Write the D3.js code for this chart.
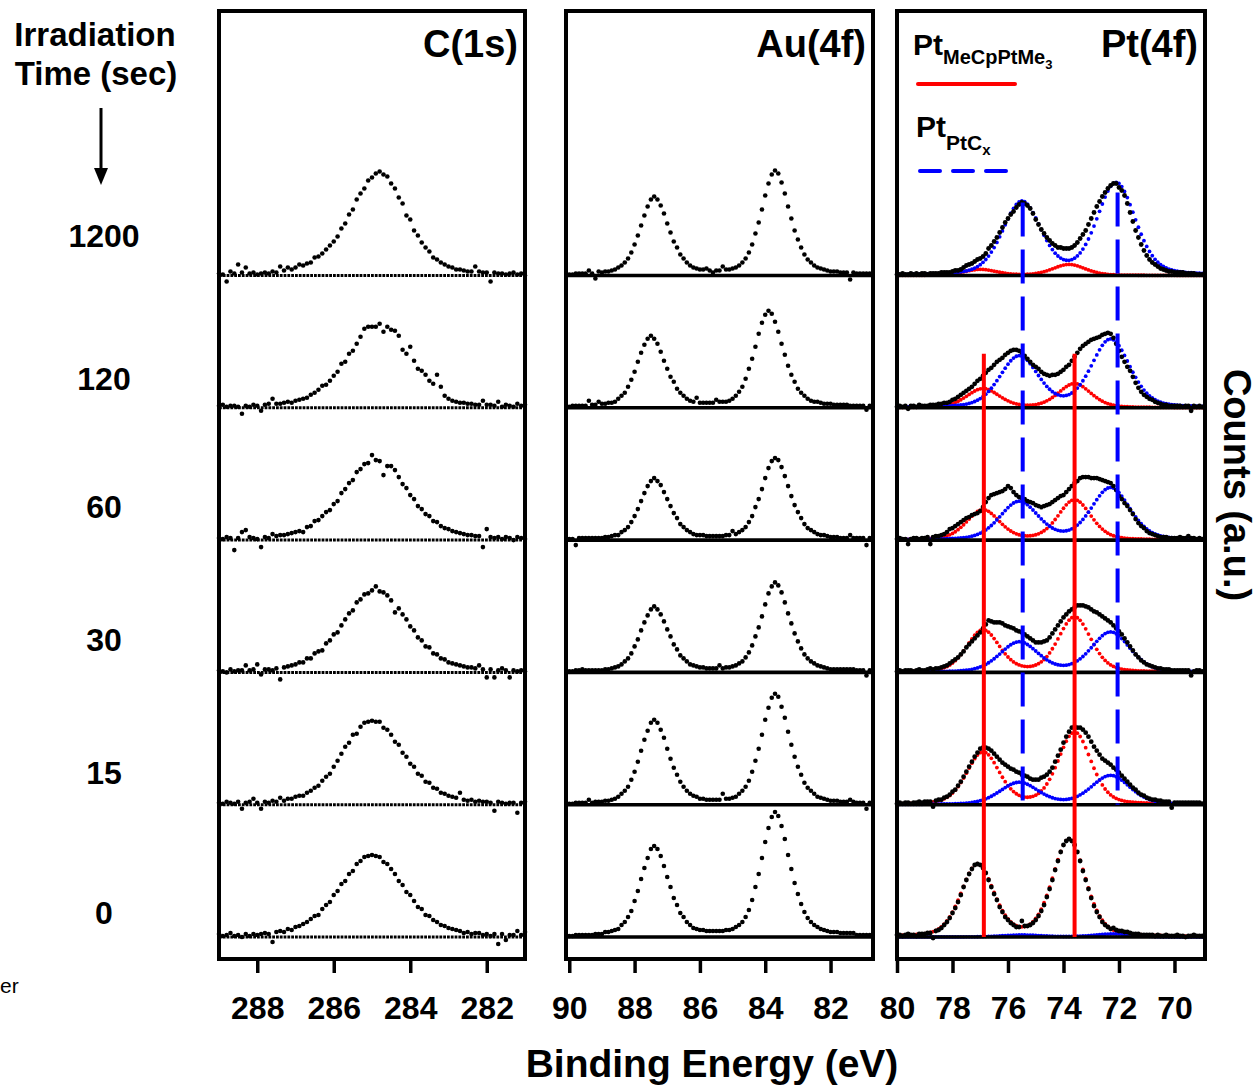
<!DOCTYPE html>
<html>
<head>
<meta charset="utf-8">
<script src="https://cdn.jsdelivr.net/npm/d3@7"></script>
<style>
  html, body { margin: 0; padding: 0; background: #fff; }
  svg { display: block; }
</style>
</head>
<body>
<svg id="chart" width="1258" height="1086"></svg>
<script>
// ---- Data ---------------------------------------------------------------
// Irradiation times, one spectrum row per time (top row first)
const timeLabels = ["1200", "120", "60", "30", "15", "0"];

// Binding-energy tick labels of the three panels
const c1sTicks = [288, 286, 284, 282];
const au4fTicks = [90, 88, 86, 84, 82];
const pt4fTicks = [80, 78, 76, 74, 72, 70];

// C(1s) counts (a.u., background subtracted), 289.0 -> 281.0 eV, 0.1 eV steps
const c1sCounts = [
  [2,1,-6,4,2,11,3,8,2,3, 1,2,3,2,4,3,9,5,8,6, 8,11,10,12,13,18,19,22,26,30, 34,39,47,52,61,66,76,82,87,95, 98,102,104,101,99,92,87,78,72,60, 56,45,40,33,28,24,18,16,13,11, 9,8,6,6,5,4,4,9,4,3, 3,-6,3,2,2,1,2,3,1,2, 0],
  [2,3,1,2,2,1,-6,2,1,3, 2,-3,3,4,9,4,4,5,6,5, 7,8,9,10,13,15,18,22,23,27, 32,36,44,46,54,57,64,71,79,81, 81,81,84,76,81,78,77,72,58,54, 61,47,39,37,33,27,24,33,21,12, 9,7,6,5,5,4,4,3,3,7, 3,3,2,6,1,3,2,1,4,2, 3],
  [2,1,3,2,-10,2,8,10,3,2, 1,-7,3,2,6,4,5,5,6,7, 8,9,8,13,14,19,20,24,28,30, 36,39,47,51,57,60,68,71,76,77, 85,80,79,65,74,74,70,63,56,52, 45,41,34,31,26,24,19,18,14,12, 11,9,8,7,6,5,5,4,4,-7, 11,3,2,3,1,3,2,0,3,2, 1],
  [2,1,0,3,1,2,2,7,2,3, 8,-2,3,3,2,4,-7,5,6,7, 8,10,10,14,14,19,21,22,29,32, 38,40,47,53,59,62,70,73,78,79, 82,86,81,80,77,72,60,64,58,53, 46,42,35,32,26,25,19,18,14,13, 10,9,8,7,6,5,5,4,7,3, -5,3,-5,2,4,2,-5,2,1,2, 1],
  [2,1,3,2,1,3,-4,2,3,6, 2,-4,3,2,4,3,7,4,6,6, 8,9,9,12,14,17,19,24,28,31, 38,44,51,58,62,70,71,78,82,83, 84,83,83,77,75,70,63,60,52,48, 41,38,31,29,23,22,17,16,12,11, 9,8,7,12,5,4,5,3,4,3, 3,2,-6,3,2,1,2,2,-8,2, 3],
  [3,1,2,4,1,2,0,3,1,3, 2,3,4,3,-5,5,6,5,8,7, 10,11,13,15,18,21,22,28,32,35, 42,46,53,56,63,66,73,76,80,81, 82,81,80,75,73,68,63,56,52,45, 42,36,30,28,22,21,17,15,12,11, 9,8,7,6,4,5,3,4,4,2, 3,1,3,-7,3,-3,2,2,6,2, 5]
];

// Au(4f) counts, 90.0 -> 80.8 eV, 0.1 eV steps
const au4fCounts = [
  [1,1,2,2,2,2,5,2,-3,4, 3,4,4,5,6,8,10,13,17,23, 31,40,50,60,69,76,79,76,70,62, 52,43,34,28,21,17,13,10,8,7, 6,6,7,5,3,5,5,9,6,6, 7,8,10,13,17,23,31,42,53,66, 80,92,101,105,102,93,82,69,57,45, 36,28,21,16,13,10,8,7,6,5, 4,4,4,3,3,3,-4,3,2,2, 2,2,2],
  [1,2,2,2,2,2,7,3,3,6, 4,4,5,5,6,9,12,15,21,28, 36,46,55,63,69,72,69,64,56,47, 39,31,26,19,15,12,9,7,6,10, 5,5,5,5,5,8,6,6,6,7, 9,12,16,21,29,39,49,61,74,85, 93,97,94,86,76,64,53,42,33,26, 19,15,12,9,7,6,6,5,4,4, 4,3,3,3,3,3,2,2,2,2, 2,-2,2],
  [1,1,-5,2,2,2,2,2,2,2, 2,3,3,4,5,5,8,10,13,18, 24,31,39,47,54,59,62,59,55,48, 41,34,27,22,16,13,10,8,6,5, 5,5,4,4,4,4,4,4,5,5, 9,6,8,10,13,18,24,33,41,51, 62,72,79,82,80,73,64,54,44,35, 28,22,16,12,10,8,6,5,5,4, 3,3,3,2,2,2,5,2,2,2, 2,-5,2],
  [1,1,2,2,3,2,2,2,2,2, 2,3,3,4,5,6,8,11,14,19, 26,33,42,50,57,63,66,63,58,51, 43,36,28,23,17,14,11,8,7,6, 5,5,4,4,4,4,7,4,5,5, 6,7,9,11,15,20,27,36,45,56, 68,79,86,90,87,80,70,59,49,39, 31,24,18,14,11,9,7,6,5,4, 3,3,3,3,3,3,3,3,2,2, 2,-3,2],
  [1,1,2,2,2,2,5,2,3,3, 3,4,4,5,6,8,11,14,18,25, 33,43,54,65,74,82,85,82,75,67, 56,46,37,30,23,18,14,11,9,8, 6,6,5,5,5,5,5,11,6,6, 7,8,11,14,18,24,33,44,56,70, 85,97,107,111,108,98,87,73,60,48, 38,30,22,17,14,11,8,7,6,5, 4,4,4,3,3,3,5,3,2,2, 2,-4,2],
  [1,1,2,2,2,2,2,2,3,3, 3,5,5,6,7,8,12,15,20,26, 36,46,58,69,79,88,91,88,81,71, 60,50,39,32,24,20,15,12,9,8, 7,7,6,6,6,6,6,6,7,7, 8,10,12,15,20,27,37,50,63,79, 95,109,120,125,121,111,98,82,68,54, 43,33,25,19,15,12,10,8,7,6, 5,5,5,4,4,4,4,4,2,2, 2,2,2]
];

// Pt(4f) counts, 80.0 -> 69.0 eV, 0.1 eV steps
const pt4fCounts = [
  [1,1,2,1,1,2,1,2,1,2, 2,1,2,2,2,2,3,3,3,3, 4,5,5,6,8,10,11,12,14,16, 17,19,22,27,30,34,38,43,48,53, 57,61,64,68,71,73,72,70,67,62, 56,51,46,42,38,35,32,30,28,28, 27,27,27,28,30,33,37,41,45,51, 57,63,69,74,79,83,87,90,92,92, 88,85,80,72,63,54,45,38,31,25, 20,16,13,11,9,7,6,5,4,4, 3,3,3,3,2,2,2,2,1,1,1],
  [1,2,1,2,-1,2,2,1,3,2, 2,2,3,3,3,4,4,5,5,6, 8,9,11,13,15,17,19,21,24,27, 29,32,35,38,40,43,46,48,50,53, 55,57,58,58,57,55,52,49,46,43, 41,39,36,34,33,32,33,33,34,36, 38,41,43,47,51,55,59,62,64,66, 68,69,70,71,73,74,75,74,70,64, 57,51,46,41,37,31,25,20,16,13, 11,9,8,6,5,4,3,3,2,2, 2,2,2,1,2,2,-3,2,1,2,1],
  [1,2,1,1,-4,1,2,2,1,2, 2,3,-4,3,4,4,5,6,8,11, 12,14,16,18,20,22,23,25,26,27, 29,33,38,42,45,46,47,48,49,51, 54,52,48,45,43,42,41,39,38,37, 35,34,33,34,35,36,38,40,42,44, 45,48,51,54,57,59,62,63,63,63, 62,62,62,61,60,59,58,57,54,50, 44,41,37,34,30,26,21,17,14,12, 9,7,6,5,4,3,3,3,2,2, 2,2,3,2,2,4,2,2,1,2,1],
  [1,2,1,2,2,2,1,2,3,2, 2,3,4,3,4,4,5,6,7,9, 11,13,15,18,21,25,28,31,34,37, 40,44,48,52,51,50,50,50,49,47, 46,45,44,42,41,40,38,36,34,32, 30,30,30,31,32,35,39,43,47,51, 55,58,61,63,65,67,67,67,66,65, 63,61,60,58,56,54,52,50,47,44, 41,38,34,30,26,22,18,15,12,10, 8,7,6,5,4,4,3,3,3,2, 2,2,2,2,2,2,-3,1,2,2,1],
  [1,2,1,2,2,1,2,2,3,2, 3,3,3,-2,4,5,5,7,8,10, 13,15,19,23,28,33,38,43,48,52, 56,57,57,56,54,51,48,45,42,40, 38,36,35,33,32,30,29,28,26,25, 25,25,27,28,30,33,37,43,49,55, 62,68,73,77,78,77,77,75,72,68, 63,58,54,50,46,44,42,40,37,35, 32,29,26,23,20,17,15,12,10,9, 7,6,5,5,4,4,3,3,3,-3, 2,2,2,2,2,2,2,2,2,2,1],
  [2,2,1,2,3,2,2,1,3,3, 3,4,4,-1,6,7,9,12,15,19, 24,29,35,42,50,57,63,68,72,73, 72,69,64,57,50,43,37,30,25,20, 17,14,12,10,10,16,11,11,12,14, 17,21,26,32,40,48,57,67,76,85, 92,96,98,96,92,85,76,66,57,48, 39,31,25,20,15,12,10,8,9,7, 6,6,5,5,4,3,3,3,2,2, 2,2,2,1,2,1,1,2,1,1, 1,2,1,1,0,1,1,2,1,1,1]
];

// Fitted Pt 4f doublets per row: [binding energy (eV), height (a.u.)]
const ptOrgPeaks = [   // Pt in MeCpPtMe3
  [[77.0, 6], [73.8, 11]],
  [[76.9, 19], [73.6, 24]],
  [[76.9, 30], [73.6, 40]],
  [[76.9, 42], [73.6, 55]],
  [[76.9, 52], [73.6, 72]],
  [[77.1, 72], [73.8, 97]]
];
const ptCxPeaks = [    // Pt in PtCx
  [[75.5, 73], [72.1, 92]],
  [[75.6, 51], [72.3, 68]],
  [[75.6, 38], [72.3, 52]],
  [[75.6, 30], [72.3, 40]],
  [[75.6, 22], [72.3, 29]],
  [[75.5, 2], [72.2, 3]]
];
const ptOrgHwhm = 0.70;   // eV
const ptCxHwhm = 0.82;    // eV
const lorentzFraction = 0.3;

// Guide lines at the two species' peak energies (eV)
const ptOrgGuides = [76.87, 73.6];
const ptCxGuides = [75.47, 72.05];

// ---- Layout -------------------------------------------------------------
const FONT = "'Liberation Sans', Arial, Helvetica, sans-serif";
const RED = "#ff0000", BLUE = "#0000ff";
const STEP = 0.1;
const frameTop = 11, frameBottom = 959;

const svg = d3.select("#chart");

// Baseline of every spectrum row, and counts -> vertical pixel offset
const rowY = d3.scaleLinear().domain([0, 5]).range([275.5, 937]);
const yOff = d3.scaleLinear().domain([0, 100]).range([0, -100]);

const panels = [
  { title: "C(1s)", counts: c1sCounts, start: 289.0, ticks: c1sTicks,
    x: d3.scaleLinear().domain([289, 281]).range([219, 525]), dotted: true, dot: 2.3 },
  { title: "Au(4f)", counts: au4fCounts, start: 90.0, ticks: au4fTicks,
    x: d3.scaleLinear().domain([90.1, 80.7]).range([566, 873]), dot: 2.3 },
  { title: "Pt(4f)", counts: pt4fCounts, start: 80.0, ticks: pt4fTicks,
    x: d3.scaleLinear().domain([80, 68.9]).range([897, 1205]), fitted: true, dot: 2.4 }
];

// Pseudo-Voigt line shape used for the fitted components
function pseudoVoigt(e, center, height, hwhm) {
  const r = (e - center) / hwhm;
  return height * ((1 - lorentzFraction) * Math.exp(-Math.LN2 * r * r) +
                   lorentzFraction / (1 + r * r));
}
function doublet(e, peaks, hwhm) {
  return d3.sum(peaks, p => pseudoVoigt(e, p[0], p[1], hwhm));
}

panels.forEach(p => {
  const g = svg.append("g");
  const [x0, x1] = p.x.range();
  const energy = i => p.start - i * STEP;

  // fitted components (drawn underneath the spectrum)
  if (p.fitted) {
    const comps = [
      { peaks: ptOrgPeaks, hwhm: ptOrgHwhm, color: RED },
      { peaks: ptCxPeaks, hwhm: ptCxHwhm, color: BLUE }
    ];
    comps.forEach(c => {
      c.peaks.forEach((rowPeaks, r) => {
        g.append("g").selectAll("circle")
          .data(p.counts[r].map((_, i) => energy(i)))
          .join("circle")
          .attr("cx", e => p.x(e))
          .attr("cy", e => rowY(r) + yOff(doublet(e, rowPeaks, c.hwhm)))
          .attr("r", 1.9)
          .attr("fill", c.color);
      });
    });
  }

  // background line of each row
  p.counts.forEach((_, r) => {
    g.append("line")
      .attr("x1", x0).attr("x2", x1)
      .attr("y1", rowY(r)).attr("y2", rowY(r))
      .attr("stroke", "#000")
      .attr("stroke-width", p.dotted ? 3 : 3.6)
      .attr("stroke-dasharray", p.dotted ? "2.8,1" : null);
  });

  // measured points
  p.counts.forEach((row, r) => {
    g.append("g").selectAll("circle")
      .data(row)
      .join("circle")
      .attr("cx", (v, i) => p.x(energy(i)))
      .attr("cy", v => rowY(r) + yOff(v))
      .attr("r", p.dot)
      .attr("fill", "#000");
  });

  // frame
  g.append("rect")
    .attr("x", x0).attr("y", frameTop)
    .attr("width", x1 - x0).attr("height", frameBottom - frameTop)
    .attr("fill", "none").attr("stroke", "#000").attr("stroke-width", 4);

  // bottom axis
  const axis = g.append("g")
    .attr("transform", `translate(0,${frameBottom + 2})`)
    .call(d3.axisBottom(p.x).tickValues(p.ticks).tickSize(12)
      .tickPadding(23).tickFormat(d3.format("d")));
  axis.select(".domain").remove();
  axis.selectAll(".tick line").attr("stroke", "#000").attr("stroke-width", 3.5);
  axis.selectAll(".tick text")
    .attr("fill", "#000")
    .style("font-family", FONT).style("font-weight", "bold").style("font-size", "32px");

  // panel title
  g.append("text")
    .attr("x", x1 - 7).attr("y", 57)
    .attr("text-anchor", "end")
    .style("font-family", FONT).style("font-weight", "bold").style("font-size", "38px")
    .text(p.title);
});

// guide lines in the Pt(4f) panel
const xPt = panels[2].x;
svg.append("g").selectAll("line")
  .data(ptOrgGuides)
  .join("line")
  .attr("x1", d => xPt(d)).attr("x2", d => xPt(d))
  .attr("y1", rowY(1) + yOff(54)).attr("y2", rowY(5))
  .attr("stroke", RED).attr("stroke-width", 4);
svg.append("g").selectAll("line")
  .data(ptCxGuides)
  .join("line")
  .attr("x1", d => xPt(d)).attr("x2", d => xPt(d))
  .attr("y1", (d, i) => rowY(0) + yOff(i === 0 ? 73 : 83)).attr("y2", rowY(4))
  .attr("stroke", BLUE).attr("stroke-width", 4)
  .attr("stroke-dasharray", "34,13");

// legend
const leg1 = svg.append("text")
  .attr("x", 913).attr("y", 55)
  .style("font-family", FONT).style("font-weight", "bold").style("font-size", "30px");
leg1.append("tspan").text("Pt");
leg1.append("tspan").attr("dy", 9).style("font-size", "20px").text("MeCpPtMe");
leg1.append("tspan").attr("dy", 5).style("font-size", "13px").text("3");
svg.append("line")
  .attr("x1", 918).attr("x2", 1015).attr("y1", 84).attr("y2", 84)
  .attr("stroke", RED).attr("stroke-width", 4).attr("stroke-linecap", "round");

const leg2 = svg.append("text")
  .attr("x", 916).attr("y", 137)
  .style("font-family", FONT).style("font-weight", "bold").style("font-size", "30px");
leg2.append("tspan").text("Pt");
leg2.append("tspan").attr("dy", 13).style("font-size", "21px").text("PtC");
leg2.append("tspan").attr("dy", 5).style("font-size", "15px").text("x");
svg.append("line")
  .attr("x1", 920).attr("x2", 1008).attr("y1", 171).attr("y2", 171)
  .attr("stroke", BLUE).attr("stroke-width", 4).attr("stroke-linecap", "round")
  .attr("stroke-dasharray", "20,13");

// left-hand labels
const leftText = (txt, x, y, size) => svg.append("text")
  .attr("x", x).attr("y", y).attr("text-anchor", "middle")
  .style("font-family", FONT).style("font-weight", "bold").style("font-size", size)
  .text(txt);
leftText("Irradiation", 95, 46, "33px");
leftText("Time (sec)", 96, 85, "33px");
svg.append("line")
  .attr("x1", 101).attr("x2", 101).attr("y1", 108).attr("y2", 170)
  .attr("stroke", "#000").attr("stroke-width", 3);
svg.append("path")
  .attr("d", "M94,168 L108,168 L101,185 Z").attr("fill", "#000");

const timeDy = [-40, -29, -33, -32, -32, -24];
timeLabels.forEach((t, r) => leftText(t, 104, rowY(r) + timeDy[r] + 11, "32px"));

// axis titles
svg.append("text")
  .attr("x", 712).attr("y", 1077).attr("text-anchor", "middle")
  .style("font-family", FONT).style("font-weight", "bold").style("font-size", "39px")
  .text("Binding Energy (eV)");
svg.append("text")
  .attr("transform", "translate(1224,485) rotate(90)")
  .attr("text-anchor", "middle")
  .style("font-family", FONT).style("font-weight", "bold").style("font-size", "38px")
  .text("Counts (a.u.)");

// fragment of a neighbouring label at the lower-left edge
svg.append("text")
  .attr("x", 0).attr("y", 993)
  .style("font-family", FONT).style("font-size", "21px")
  .text("er");
</script>
</body>
</html>
